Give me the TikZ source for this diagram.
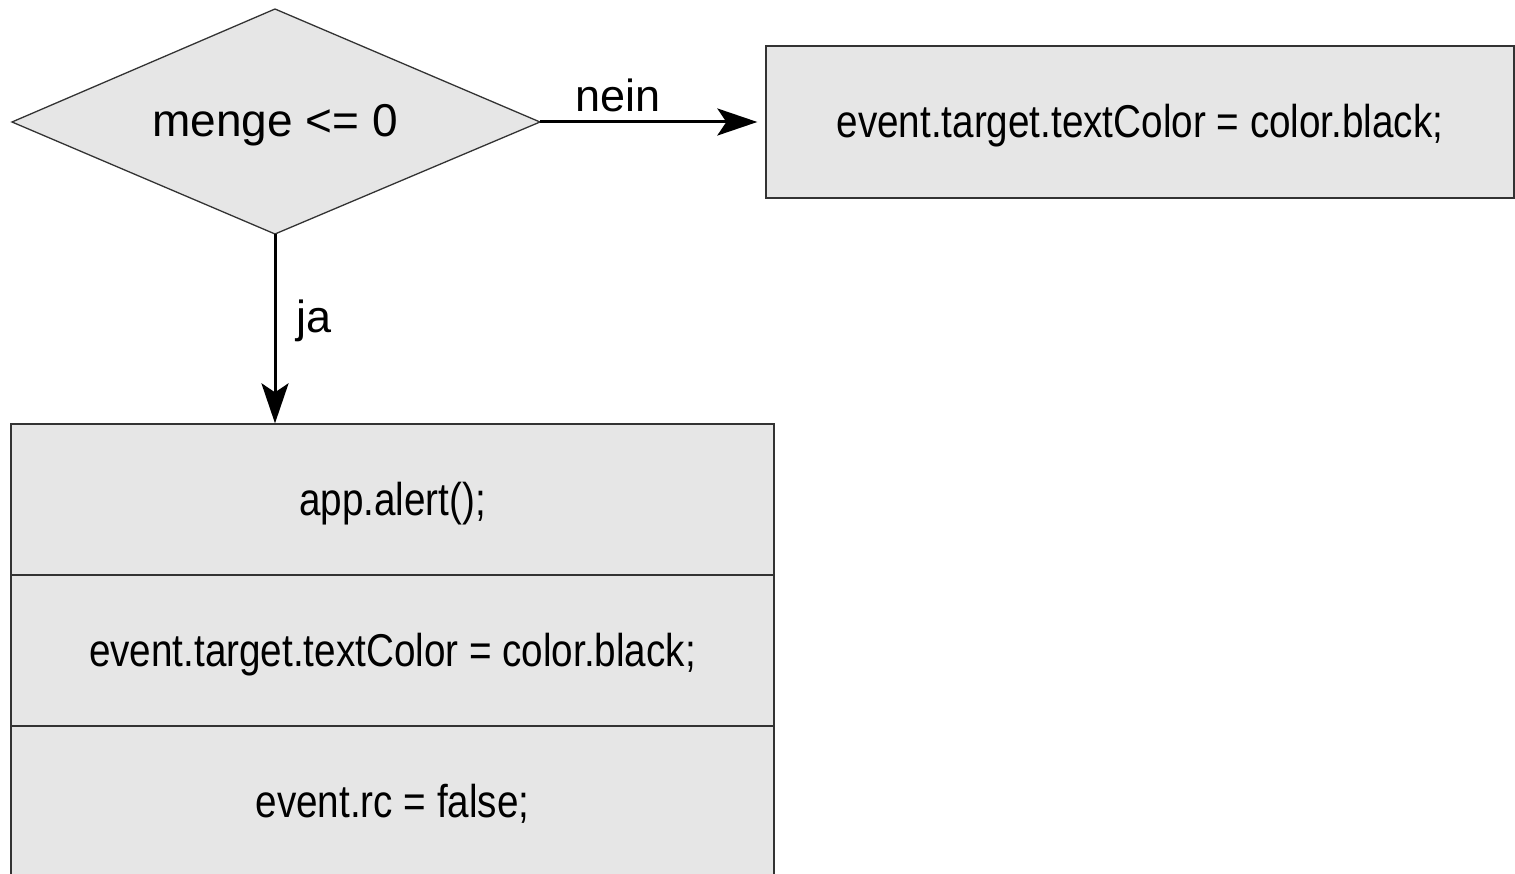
\documentclass[tikz,border=0pt]{standalone}
\usepackage{fontspec}
\usepackage{graphicx}
\setmainfont{Liberation Sans}
\usetikzlibrary{arrows.meta}
\definecolor{fillgray}{HTML}{E6E6E6}
\definecolor{edgegray}{HTML}{333333}
\newcommand\condtext[1]{\scalebox{0.84}[1]{#1}}
\begin{document}
\begin{tikzpicture}[x=1pt,y=-1pt,
  box/.style={draw=edgegray, line width=1.3pt, fill=fillgray, inner sep=0pt,
    text height=32pt, text depth=0pt, font=\fontsize{46}{50}\selectfont},
  decshape/.style={draw=edgegray, line width=1.3pt, fill=fillgray},
  dectext/.style={inner sep=0pt, text height=30pt, text depth=0pt, font=\fontsize{46}{50}\selectfont},
  arr/.style={line width=3pt, -{Stealth[length=40pt,width=27pt,inset=9pt]}},
  lbl/.style={font=\fontsize{45}{50}\selectfont, inner sep=0pt}]
\useasboundingbox (0,0) rectangle (1515,874);
% decision diamond
\coordinate (dl) at (12,122);
\coordinate (dt) at (275,9);
\coordinate (dr) at (540,122);
\coordinate (db) at (275,234);
\draw[decshape] (dl) -- (dt) -- (dr) -- (db) -- cycle;
\node[dectext] (d) at (275,122) {menge <= 0};
% boxes
\node[box, minimum width=748pt, minimum height=152pt] (t) at (1140,122) {\condtext{event.target.textColor = color.black;}};
\node[box, minimum width=763pt, minimum height=151pt] (b1) at (392.5,499.5) {\condtext{app.alert();}};
\node[box, minimum width=763pt, minimum height=151pt] (b2) at (392.5,650.5) {\condtext{event.target.textColor = color.black;}};
\node[box, minimum width=763pt, minimum height=151pt] (b3) at (392.5,801.5) {\condtext{event.rc = false;}};
% connectors
\coordinate (tin) at ([xshift=-8pt]t.west);
\draw[arr] (dr) -- (tin) node[lbl, pos=0.358, anchor=base, yshift=10pt] {nein};
\draw[arr] (db) -- (db |- b1.north) node[lbl, pos=0.52, anchor=base west, xshift=20pt] {ja};
\end{tikzpicture}
\end{document}
